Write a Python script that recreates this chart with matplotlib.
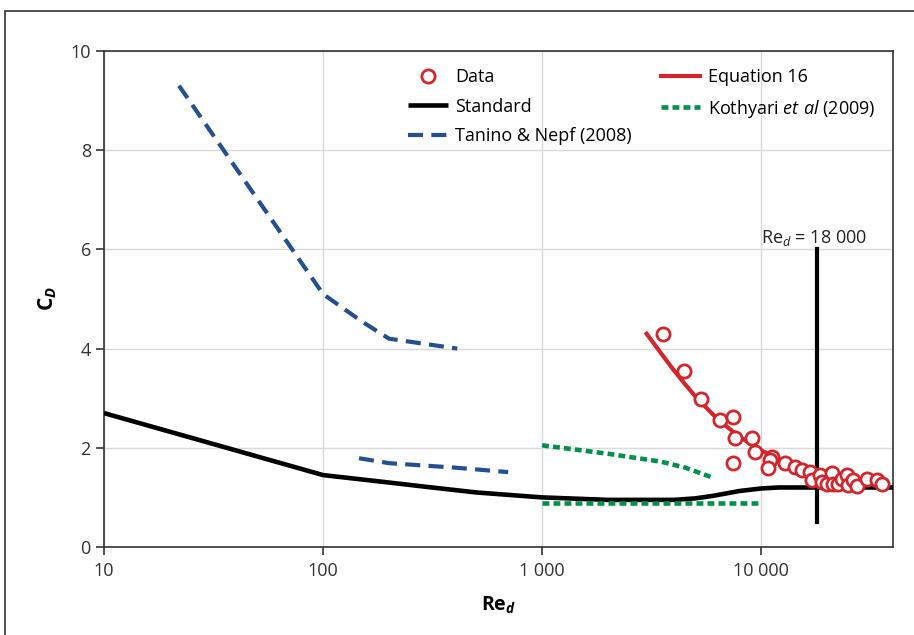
import numpy as np
import matplotlib
matplotlib.use("Agg")
import matplotlib.pyplot as plt
from matplotlib.patches import Rectangle

plt.rcParams["font.family"] = ["Open Sans", "DejaVu Sans"]
plt.rcParams["font.size"] = 13
plt.rcParams["mathtext.fontset"] = "custom"
plt.rcParams["mathtext.rm"] = "Open Sans"
plt.rcParams["mathtext.it"] = "Open Sans:italic"
plt.rcParams["mathtext.bf"] = "Open Sans:bold"
plt.rcParams["mathtext.bfit"] = "Open Sans:italic:bold"

# measured data
data_re = [3556, 4446, 5330, 6500, 7470, 7600, 7470, 9070, 9390, 11190, 10990, 10800,
           12870, 14300, 15340, 16740, 17040, 18600, 18930, 19950, 21030, 21390,
           22540, 23360, 24620, 25040, 26400, 27350, 30380, 33750, 35580]
data_cd = [4.29, 3.55, 2.98, 2.57, 2.63, 2.19, 1.69, 2.19, 1.92, 1.82, 1.75, 1.59,
           1.70, 1.62, 1.55, 1.52, 1.35, 1.45, 1.32, 1.28, 1.49, 1.28,
           1.28, 1.38, 1.45, 1.25, 1.35, 1.22, 1.38, 1.35, 1.28]

# Equation 16
eq_re = [3000, 3500, 4000, 4500, 5000, 6000, 7000, 8000, 9000, 10000, 12000,
         15000, 20000, 25000, 30000, 36000]
eq_cd = [4.3, 3.9, 3.56, 3.28, 3.04, 2.68, 2.42, 2.22, 2.07, 1.95, 1.77,
         1.6, 1.45, 1.37, 1.32, 1.28]

# standard cylinder curve
std_re = [10, 100, 200, 300, 500, 1000, 2000, 4000, 5000, 6000, 8000, 10000,
          12000, 20000, 40000]
std_cd = [2.7, 1.45, 1.3, 1.21, 1.1, 1.0, 0.95, 0.95, 0.98, 1.03, 1.13, 1.18,
          1.2, 1.2, 1.2]

# Tanino & Nepf (2008)
tn_re_a = [22, 100, 150, 200, 410]
tn_cd_a = [9.3, 5.1, 4.55, 4.2, 4.0]
tn_re_b = [146, 200, 400, 700]
tn_cd_b = [1.79, 1.69, 1.6, 1.51]

# Kothyari et al (2009)
ko_re_a = [1000, 2000, 3500, 4500, 6000]
ko_cd_a = [2.05, 1.88, 1.72, 1.6, 1.4]
ko_re_b = [1000, 10000]
ko_cd_b = [0.88, 0.88]

re_limit = 18000
xticks = [10, 100, 1000, 10000]
xtick_labels = ["10", "100", "1 000", "10 000"]

red = "#d3262c"
blue = "#24508f"
green = "#00924a"

fig = plt.figure(figsize=(9.14, 6.35), dpi=100)
ax = fig.add_axes([104 / 914, 1 - 547 / 635, 789 / 914, 496 / 635])

fig.patches.append(Rectangle((5 / 914, -0.1), 1.2, 1 - 11 / 635 + 0.1,
                             transform=fig.transFigure, fill=False,
                             edgecolor="#333333", lw=1.2))

ax.plot(std_re, std_cd, color="black", lw=3.3, solid_capstyle="butt",
        label="Standard", zorder=3)
ax.plot(tn_re_a, tn_cd_a, color=blue, lw=3, dashes=(3.6, 2.0),
        dash_capstyle="butt", label="Tanino & Nepf (2008)", zorder=3)
ax.plot(tn_re_b, tn_cd_b, color=blue, lw=3, dashes=(3.6, 2.0),
        dash_capstyle="butt", zorder=3)
ax.plot(ko_re_a, ko_cd_a, color=green, lw=3.3, dashes=(1.5, 0.9),
        dash_capstyle="butt", label=r"Kothyari $\mathit{et\ al}$ (2009)", zorder=3)
ax.plot(ko_re_b, ko_cd_b, color=green, lw=3.3, dashes=(1.5, 0.9),
        dash_capstyle="butt", zorder=3)
ax.plot([re_limit, re_limit], [0.5, 6], color="black", lw=3, zorder=3)
ax.plot(eq_re, eq_cd, color=red, lw=3, label="Equation 16", zorder=4)
ax.plot(data_re, data_cd, "o", color=red, mfc="white", mec=red, ms=9.5, mew=2,
        label="Data", zorder=5)

ax.text(10000, 6.13, r"Re$_{\mathit{d}}$ = 18 000", fontsize=13, va="baseline",
        ha="left", color="#222222")

ax.set_xscale("log")
ax.set_xlim(10, 40000)
ax.set_ylim(0, 10)
ax.set_xticks(xticks, labels=xtick_labels)
ax.xaxis.set_minor_locator(matplotlib.ticker.NullLocator())
ax.set_yticks([0, 2, 4, 6, 8, 10])
ax.tick_params(axis="both", direction="out", length=6, width=1.2, colors="#333333",
               labelcolor="#333333", labelsize=13)
ax.tick_params(axis="x", pad=5)
ax.grid(True, color="#d9d9d9", lw=1)
ax.set_axisbelow(True)
for side in ["left", "bottom", "top", "right"]:
    ax.spines[side].set_color("#333333")
    ax.spines[side].set_linewidth(1.2)

ax.set_xlabel(r"$\mathbf{Re}_{\mathbfit{d}}$", fontsize=14, labelpad=10)
ax.set_ylabel(r"$\mathbf{C}_{\mathbfit{D}}$", fontsize=15, labelpad=8)

h, l = ax.get_legend_handles_labels()
order = ["Data", "Standard", "Tanino & Nepf (2008)", "Equation 16",
         r"Kothyari $\mathit{et\ al}$ (2009)"]
hd = dict(zip(l, h))
ax.legend([hd[k] for k in order], order, ncol=2, loc="upper left",
          bbox_to_anchor=(0.374, 0.984), frameon=False, borderpad=0,
          handlelength=2.2, handletextpad=0.4, labelspacing=0.65,
          columnspacing=1.6, fontsize=13)

fig.savefig("out.png", dpi=100)
